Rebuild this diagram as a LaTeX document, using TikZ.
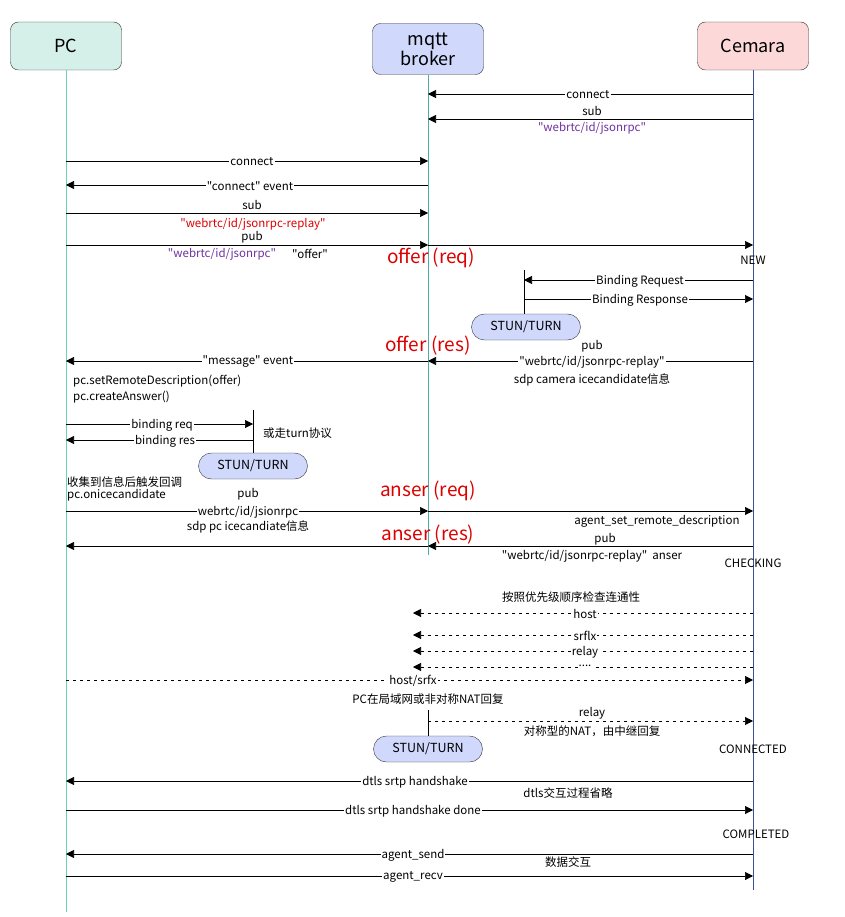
\documentclass[tikz,border=0pt]{standalone}
\usepackage{fontspec}
\setmainfont{Noto Sans CJK SC}[Ligatures=TeXOff]
\usepackage{tikz}
\usetikzlibrary{arrows.meta,positioning}
\definecolor{pcfill}{RGB}{212,240,232}
\definecolor{mqfill}{RGB}{208,216,252}
\definecolor{camfill}{RGB}{252,216,216}
\definecolor{pcline}{RGB}{110,210,180}
\definecolor{mqline}{RGB}{80,170,170}
\definecolor{camline}{RGB}{60,80,150}
\definecolor{hotred}{RGB}{220,0,0}
\definecolor{topicpurple}{RGB}{112,48,160}

\begin{document}
\begin{tikzpicture}[x=1pt, y=-1pt,
  actor/.style={draw=black!80, rounded corners=8pt, minimum width=111pt, minimum height=48pt,
                align=center, font=\fontsize{18}{20}\selectfont},
  stunbox/.style={draw=black!80, fill=mqfill, rounded corners=13pt, minimum width=109pt,
                  minimum height=26pt, font=\fontsize{12.5}{14}\selectfont},
  lbl/.style={font=\fontsize{11.5}{13}\selectfont, inner sep=1pt},
  onl/.style={lbl, fill=white},
  big/.style={font=\fontsize{19}{21}\selectfont, text=hotred, inner sep=1pt},
  msg/.style={-{Triangle[length=8pt,width=8pt]}, line width=0.6pt},
  probe/.style={msg, dash pattern=on 3pt off 4pt}]
\useasboundingbox (0,0) rectangle (844,917);

% actors
\node[actor, fill=pcfill] (pc) at (66,46) {PC};
\node[actor, fill=mqfill, minimum height=51pt] (mq) at (428,49) {mqtt\\broker};
\node[actor, fill=camfill] (cam) at (753,46) {Cemara};

% lifelines
\coordinate (pcend) at (66,912);
\coordinate (mqend) at (428,555);
\coordinate (camend) at (753,890);
\draw[pcline, line width=0.6pt] (pc.south) -- (pcend);
\draw[mqline, line width=0.6pt] (mq.south) -- (mqend);
\draw[camline, line width=0.6pt] (cam.south) -- (camend);

% camera registers
\coordinate (r1) at (0,94);
\coordinate (r2) at (0,119);
\draw[msg] (cam |- r1) -- (mq |- r1);
\node[onl] at (588,95) {connect};
\draw[msg] (cam |- r2) -- (mq |- r2);
\node[lbl] at (592,111) {sub};
\node[lbl, text=topicpurple] at (592,128) {"webrtc/id/jsonrpc"};

% pc registers
\coordinate (r3) at (0,161);
\coordinate (r4) at (0,185);
\coordinate (r5) at (0,213);
\coordinate (r6) at (0,245);
\draw[msg] (pc |- r3) -- (mq |- r3);
\node[onl] at (252,162) {connect};
\draw[msg] (mq |- r4) -- (pc |- r4);
\node[onl] at (250,186) {"connect" event};
\draw[msg] (pc |- r5) -- (mq |- r5);
\node[lbl] at (252,205) {sub};
\node[lbl, text=hotred] at (253,224) {"webrtc/id/jsonrpc-replay"};

% offer
\draw[msg] (pc |- r6) -- (mq |- r6);
\draw[msg] (mq |- r6) -- (cam |- r6);
\node[lbl] at (252,237) {pub};
\node[lbl, text=topicpurple] at (222,254) {"webrtc/id/jsonrpc"};
\node[lbl] at (310,254) {"offer"};
\node[big] at (431,258) {offer (req)};
\node[lbl] at (753,260) {NEW};

% camera stun
\coordinate (s1top) at (524,270);
\coordinate (r7) at (0,280);
\coordinate (r8) at (0,299);
\node[stunbox] (stun1) at (526,327) {STUN/TURN};
\draw[line width=0.6pt] (s1top) -- (s1top |- stun1.north);
\draw[msg] (cam |- r7) -- (s1top |- r7);
\node[onl] at (640,281) {Binding Request};
\draw[msg] (s1top |- r8) -- (cam |- r8);
\node[onl] at (640,300) {Binding Response};

% offer response
\coordinate (r9) at (0,361);
\node[big] at (428,346) {offer (res)};
\draw[msg] (cam |- r9) -- (mq |- r9);
\draw[msg] (mq |- r9) -- (pc |- r9);
\node[lbl] at (592,346) {pub};
\node[onl] at (592,362) {"webrtc/id/jsonrpc-replay"};
\node[lbl] at (592,380) {sdp camera icecandidate信息};
\node[onl] at (248,362) {"message" event};
\node[lbl, anchor=west] at (72,381) {pc.setRemoteDescription(offer)};
\node[lbl, anchor=west] at (72,397) {pc.createAnswer()};

% pc stun
\coordinate (s2top) at (253,410);
\coordinate (r10) at (0,424);
\coordinate (r11) at (0,440);
\node[stunbox] (stun2) at (253,466) {STUN/TURN};
\draw[line width=0.6pt] (s2top) -- (s2top |- stun2.north);
\draw[msg] (pc |- r10) -- (s2top |- r10);
\node[onl] at (162,425) {binding req};
\draw[msg] (s2top |- r11) -- (pc |- r11);
\node[onl] at (165,441) {binding res};
\node[lbl, anchor=west] at (262,433) {或走turn协议};
\node[lbl, anchor=west] at (66,482) {收集到信息后触发回调};
\node[lbl, anchor=west] at (66,495) {pc.onicecandidate};

% answer
\coordinate (r12) at (0,511);
\coordinate (r13) at (0,546);
\node[big] at (428,491) {anser (req)};
\draw[msg] (pc |- r12) -- (mq |- r12);
\draw[msg] (mq |- r12) -- (cam |- r12);
\node[lbl] at (248,494) {pub};
\node[onl] at (248,512) {webrtc/id/jsionrpc};
\node[lbl] at (248,527) {sdp pc icecandiate信息};
\node[lbl] at (657,521) {agent\_set\_remote\_description};
\node[big] at (428,535) {anser (res)};
\draw[msg] (cam |- r13) -- (mq |- r13);
\draw[msg] (mq |- r13) -- (pc |- r13);
\node[lbl] at (605,539) {pub};
\node[lbl] at (592,556) {"webrtc/id/jsonrpc-replay"\ \ anser};
\node[lbl] at (753,563) {CHECKING};

% connectivity checks
\coordinate (dk) at (413,0);
\coordinate (r14) at (0,613);
\coordinate (r15) at (0,635);
\coordinate (r16) at (0,651);
\coordinate (r17) at (0,667);
\coordinate (r18) at (0,680);
\node[lbl] at (571,597) {按照优先级顺序检查连通性};
\draw[probe] (cam |- r14) -- (dk |- r14);
\node[onl] at (585,614) {host};
\draw[probe] (cam |- r15) -- (dk |- r15);
\node[onl] at (585,636) {srflx};
\draw[probe] (cam |- r16) -- (dk |- r16);
\node[onl] at (585,652) {relay};
\draw[probe] (cam |- r17) -- (dk |- r17);
\node[onl] at (585,666) {....};
\draw[probe] (pc |- r18) -- (cam |- r18);
\node[onl] at (413,681) {host/srfx};
\node[lbl] at (428,699) {PC在局域网或非对称NAT回复};

% relay path
\coordinate (s3top) at (428,710);
\coordinate (r19) at (0,721);
\node[stunbox] (stun3) at (428,749) {STUN/TURN};
\draw[line width=0.6pt] (s3top) -- (stun3.north);
\draw[probe] (s3top |- r19) -- (cam |- r19);
\node[lbl] at (592,713) {relay};
\node[lbl] at (592,731) {对称型的NAT，由中继回复};
\node[lbl] at (753,749) {CONNECTED};

% dtls
\coordinate (r20) at (0,781);
\coordinate (r21) at (0,810);
\draw[msg] (cam |- r20) -- (pc |- r20);
\node[onl] at (415,782) {dtls srtp handshake};
\node[lbl] at (568,793) {dtls交互过程省略};
\draw[msg] (pc |- r21) -- (cam |- r21);
\node[onl] at (413,811) {dtls srtp handshake done};
\node[lbl] at (756,834) {COMPLETED};

% data
\coordinate (r22) at (0,854);
\coordinate (r23) at (0,876);
\draw[msg] (cam |- r22) -- (pc |- r22);
\node[onl] at (413,855) {agent\_send};
\node[lbl] at (568,862) {数据交互};
\draw[msg] (pc |- r23) -- (cam |- r23);
\node[onl] at (413,877) {agent\_recv};
\end{tikzpicture}
\end{document}
